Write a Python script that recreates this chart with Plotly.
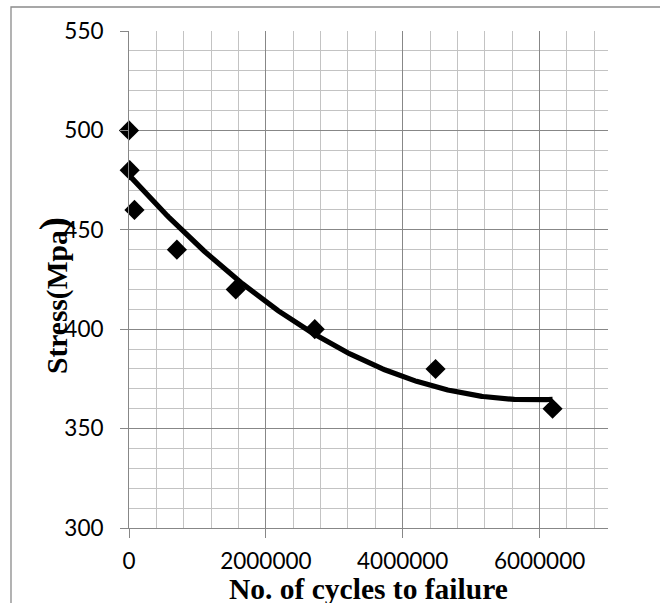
import numpy as np
import plotly.graph_objects as go

# ---- data ----
cycles = [0, 10000, 80000, 700000, 1560000, 2715000, 4480000, 6190000]
stress = [500, 480, 460, 440, 420, 400, 380, 360]

x_title = "No. of cycles to failure"
y_title = "Stress(Mpa<span style='font-size:40px'>)</span>"

# ---- layout geometry (pixels) ----
W, H = 660, 603
L, R, T, B = 129, 52, 31, 75
PW, PH = W - L - R, H - T - B


def px_x(p):
    return (p - L) / PW


def px_y(p):
    return (H - B - p) / PH


# polynomial (order 2) trendline, as in the original spreadsheet chart
coef = np.polyfit(np.array(cycles, float), np.array(stress, float), 2)
xs = np.linspace(min(cycles), max(cycles), 300)
ys = np.polyval(coef, xs)

fig = go.Figure()
fig.add_trace(go.Scatter(
    x=cycles, y=stress, mode="markers", cliponaxis=False,
    marker=dict(symbol="diamond", size=15.5, color="black", line=dict(width=0)),
))
fig.add_trace(go.Scatter(
    x=xs, y=ys, mode="lines", cliponaxis=False,
    line=dict(color="black", width=5.2),
))

tick_font = dict(family="Lato", size=22.5, color="black")
major = "#878787"
minor = "#c3c3c3"

fig.update_xaxes(
    range=[0, 7000000], tickmode="linear", tick0=0, dtick=2000000, tickformat="d",
    showgrid=True, gridcolor=major, gridwidth=1, zeroline=False,
    showline=True, linecolor=major, linewidth=1,
    ticks="outside", ticklen=9, tickcolor=major, tickwidth=1,
    tickfont=tick_font, ticklabelstandoff=4,
    minor=dict(tick0=0, dtick=400000, showgrid=True, gridcolor=minor, gridwidth=1, ticks=""),
)
fig.update_yaxes(
    range=[300, 550], tickmode="linear", tick0=300, dtick=50,
    showgrid=True, gridcolor=major, gridwidth=1, zeroline=False,
    showline=True, linecolor=major, linewidth=1,
    ticks="outside", ticklen=8, tickcolor=major, tickwidth=1,
    tickfont=tick_font, ticklabelstandoff=12,
    minor=dict(tick0=300, dtick=10, showgrid=True, gridcolor=minor, gridwidth=1, ticks=""),
)

fig.update_layout(
    width=W, height=H, margin=dict(l=L, r=R, t=T, b=B, pad=0),
    showlegend=False, plot_bgcolor="white", paper_bgcolor="white",
)

# outer chart frame (right and bottom edges lie outside the picture)
fig.add_shape(type="rect", xref="paper", yref="paper",
              x0=px_x(11), x1=px_x(700), y0=px_y(650), y1=px_y(7),
              line=dict(color="#8a8a8a", width=1.3), fillcolor="rgba(0,0,0,0)")

title_font = dict(family="Liberation Serif", size=29.5, color="black")
fig.add_annotation(text="<b>" + x_title + "</b>", xref="paper", yref="paper",
                   x=0.5, y=px_y(589), xanchor="center", yanchor="middle",
                   showarrow=False, font=title_font)
fig.add_annotation(text="<b>" + y_title + "</b>", xref="paper", yref="paper",
                   x=px_x(53), y=px_y(296), xanchor="center", yanchor="middle",
                   textangle=-90, showarrow=False, font=title_font)

fig.write_html("out.html")
